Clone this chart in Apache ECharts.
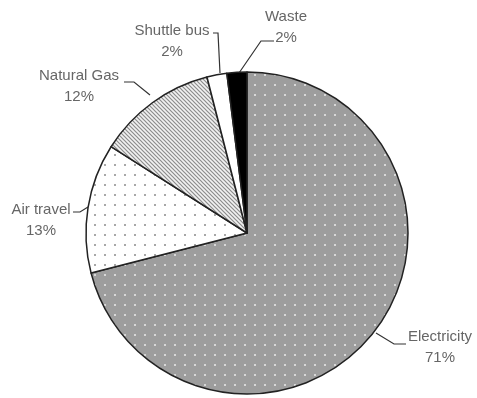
<!DOCTYPE html>
<html>
<head>
<meta charset="utf-8">
<script src="https://cdn.jsdelivr.net/npm/echarts@6/dist/echarts.min.js"></script>
<style>
  html, body { margin: 0; padding: 0; background: #fff; }
  #echarts { width: 477px; height: 398px; }
</style>
</head>
<body>
<div id="echarts"></div>
<script>
var categories = ['Electricity', 'Air travel', 'Natural Gas', 'Shuttle bus', 'Waste']
var values = [71, 13, 12, 2, 2]

// where each label sits and how its leader line bends (same order as categories)
var labelPos = [[440, 347], [41, 220], [79, 86], [172, 41], [286, 27]]
var linePts = [
    [[376, 333], [394, 344], [406, 344]],
    [[88, 207], [80, 212], [73, 212]],
    [[150, 95], [134, 82], [124, 82]],
    [[220, 73], [218, 33], [213, 33]],
    [[239, 73], [261, 41], [274, 41]]
]

// little canvas tiles used as fills
var dotTile = function (bg, dot, step) {
    var c = document.createElement('canvas')
    c.width = step; c.height = step
    var ctx = c.getContext('2d')
    ctx.fillStyle = bg
    ctx.fillRect(0, 0, step, step)
    ctx.fillStyle = dot
    ctx.fillRect(step / 2 - 1, step / 2 - 1, 2, 2)
    return c
}

var hatchTile = function () {
    var c = document.createElement('canvas')
    c.width = 4; c.height = 4
    var ctx = c.getContext('2d')
    ctx.fillStyle = '#f2f2f2'
    ctx.fillRect(0, 0, 4, 4)
    ctx.strokeStyle = '#8c8c8c'
    ctx.lineWidth = 1.2
    ctx.beginPath()
    ctx.moveTo(-1, -1); ctx.lineTo(5, 5)
    ctx.moveTo(-1, 3); ctx.lineTo(1, 5)
    ctx.moveTo(3, -1); ctx.lineTo(5, 1)
    ctx.stroke()
    return c
}

var fills = [
    { image: dotTile('#9d9d9d', '#d8d8d8', 10), repeat: 'repeat' },
    { image: dotTile('#ffffff', '#a8a8a8', 10), repeat: 'repeat' },
    { image: hatchTile(), repeat: 'repeat' },
    '#ffffff',
    '#000000'
]

var seriesData = []
for (var i = 0; i < categories.length; i++) {
    seriesData.push({
        name: categories[i],
        value: values[i],
        itemStyle: { color: fills[i] }
    })
}

var chart = echarts.init(document.getElementById('echarts'))

var option = {
    animation: false,
    series: [
        {
            type: 'pie',
            center: [247, 233],
            radius: 161,
            startAngle: 90,
            clockwise: true,
            avoidLabelOverlap: false,
            itemStyle: {
                borderColor: '#222',
                borderWidth: 1.5
            },
            label: {
                show: true,
                formatter: '{b}\n{d}%',
                color: '#666',
                fontFamily: 'Liberation Sans',
                fontSize: 15,
                lineHeight: 21,
                align: 'center'
            },
            labelLine: {
                show: true,
                length: 20,
                length2: 8,
                lineStyle: { color: '#333', width: 1.2 }
            },
            labelLayout: function (params) {
                var i = params.dataIndex
                return {
                    x: labelPos[i][0],
                    y: labelPos[i][1],
                    align: 'center',
                    verticalAlign: 'middle',
                    hideOverlap: false,
                    labelLinePoints: linePts[i]
                }
            },
            data: seriesData
        }
    ]
}

chart.setOption(option)
</script>
</body>
</html>
